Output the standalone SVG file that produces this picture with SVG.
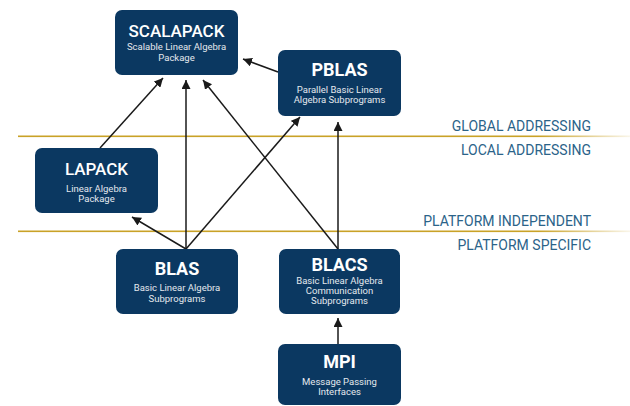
<svg xmlns="http://www.w3.org/2000/svg" width="630" height="406" viewBox="0 0 630 406">
<defs>
<linearGradient id="gold" x1="0" y1="0" x2="1" y2="0">
<stop offset="0" stop-color="#c9a227"/>
<stop offset="0.85" stop-color="#c9a227"/>
<stop offset="1" stop-color="#c9a227" stop-opacity="0.1"/>
</linearGradient>
<marker id="ah" viewBox="0 0 10 10" refX="10" refY="5" markerWidth="9" markerHeight="9" markerUnits="userSpaceOnUse" orient="auto">
<path d="M0,0 L10,5 L0,10 z" fill="#1a1a1a"/>
</marker>
</defs>
<style>
.box{fill:#0b3861;}
.t{font-family:Roboto,"Liberation Sans",sans-serif;font-weight:bold;fill:#ffffff;text-anchor:middle;}
.m{font-weight:500;}
.s{font-family:Roboto,"Liberation Sans",sans-serif;font-size:9.5px;fill:#e4e8ee;text-anchor:middle;}
.lbl{font-family:Roboto,"Liberation Sans",sans-serif;font-size:14px;fill:#2b6389;text-anchor:end;}
.c{stroke:#1a1a1a;stroke-width:1.5;fill:none;marker-end:url(#ah);}
</style>
<rect width="630" height="406" fill="#ffffff"/>
<g id="dividers">
<rect x="18" y="135.5" width="612" height="1.6" fill="url(#gold)"/>
<rect x="18" y="230.5" width="612" height="1.6" fill="url(#gold)"/>
<text class="lbl" x="591" y="131">GLOBAL ADDRESSING</text>
<text class="lbl" x="591" y="155">LOCAL ADDRESSING</text>
<text class="lbl" x="591" y="226">PLATFORM INDEPENDENT</text>
<text class="lbl" x="591" y="250">PLATFORM SPECIFIC</text>
</g>
<g id="connectors">
<line class="c" x1="100" y1="148" x2="163" y2="78"/>
<line class="c" x1="186" y1="249" x2="186" y2="80"/>
<line class="c" x1="338" y1="249" x2="203" y2="80"/>
<line class="c" x1="278" y1="72" x2="243" y2="59"/>
<line class="c" x1="186" y1="249" x2="132" y2="217"/>
<line class="c" x1="186" y1="249" x2="300" y2="117"/>
<line class="c" x1="338" y1="249" x2="338" y2="122"/>
<line class="c" x1="338" y1="344" x2="338" y2="318"/>
</g>
<g id="scalapack">
<rect class="box" x="115" y="10" width="123" height="65" rx="7"/>
<text class="t m" x="176.5" y="37" font-size="17">SCALAPACK</text>
<text class="s" x="176.5" y="50">Scalable Linear Algebra</text>
<text class="s" x="176.5" y="61">Package</text>
</g>
<g id="pblas">
<rect class="box" x="278" y="50" width="123" height="66" rx="7"/>
<text class="t" x="339.5" y="76" font-size="18">PBLAS</text>
<text class="s" x="339.5" y="93">Parallel Basic Linear</text>
<text class="s" x="339.5" y="103">Algebra Subprograms</text>
</g>
<g id="lapack">
<rect class="box" x="35" y="148" width="123" height="65" rx="7"/>
<text class="t m" x="96.5" y="175" font-size="17">LAPACK</text>
<text class="s" x="96.5" y="192">Linear Algebra</text>
<text class="s" x="96.5" y="202">Package</text>
</g>
<g id="blas">
<rect class="box" x="116" y="249" width="122" height="65" rx="7"/>
<text class="t" x="177" y="275" font-size="18">BLAS</text>
<text class="s" x="177" y="291">Basic Linear Algebra</text>
<text class="s" x="177" y="302">Subprograms</text>
</g>
<g id="blacs">
<rect class="box" x="279" y="249" width="121" height="65" rx="7"/>
<text class="t" x="339.5" y="270.5" font-size="18">BLACS</text>
<text class="s" x="339.5" y="284">Basic Linear Algebra</text>
<text class="s" x="339.5" y="294">Communication</text>
<text class="s" x="339.5" y="304">Subprograms</text>
</g>
<g id="mpi">
<rect class="box" x="278" y="344" width="123" height="61" rx="7"/>
<text class="t" x="339.5" y="368" font-size="18">MPI</text>
<text class="s" x="339.5" y="385">Message Passing</text>
<text class="s" x="339.5" y="395">Interfaces</text>
</g>
</svg>
